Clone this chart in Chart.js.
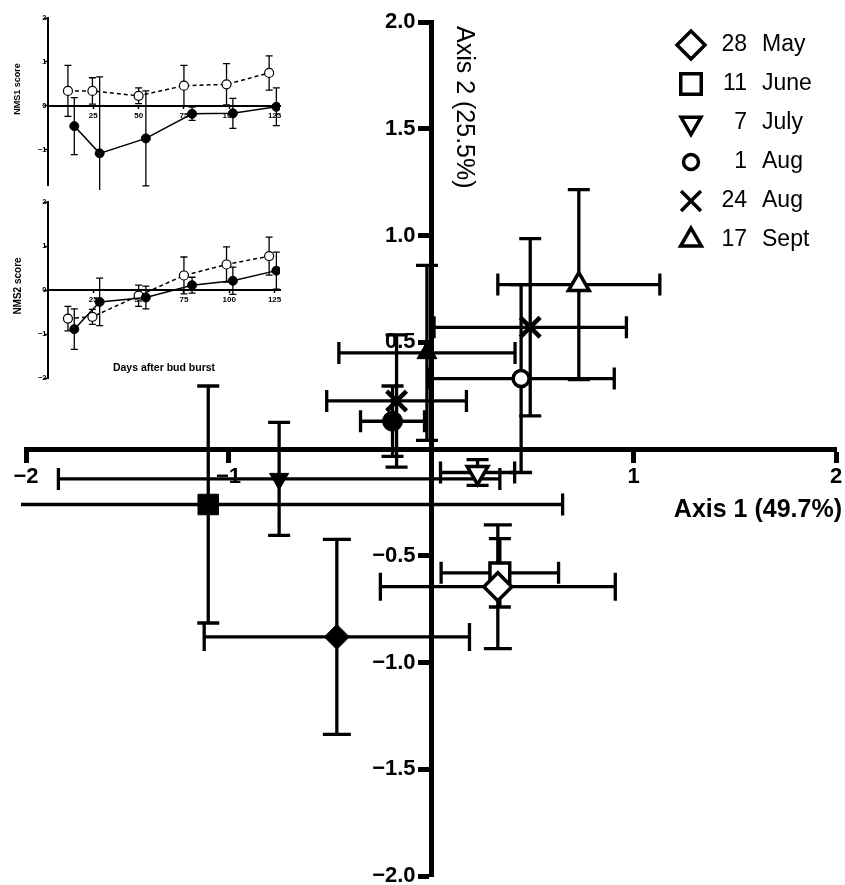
<!DOCTYPE html>
<html>
<head>
<meta charset="utf-8">
<script src="https://cdn.jsdelivr.net/npm/chart.js@4.4.1/dist/chart.umd.min.js"></script>
<style>
  html, body { margin: 0; padding: 0; background: #fff; overflow: hidden; }
  #wrap { position: relative; width: 845px; height: 885px; }
  canvas { position: absolute; left: 0; }
</style>
</head>
<body>
<div id="wrap">
  <canvas id="main" width="845" height="885" style="top:0"></canvas>
  <canvas id="nms1" width="290" height="192" style="top:0"></canvas>
  <canvas id="nms2" width="290" height="193" style="top:192px"></canvas>
</div>
<script>
// ---- main ordination (NMS axis 1 vs axis 2) ----
const dates = ["28 May", "11 June", "7 July", "1 Aug", "24 Aug", "17 Sept"];

const openAxis1 = [0.33, 0.34, 0.23, 0.445, 0.49, 0.73];
const openAxis1Err = [0.58, 0.29, 0.183, 0.46, 0.475, 0.40];
const openAxis2 = [-0.645, -0.58, -0.11, 0.33, 0.57, 0.77];
const openAxis2Err = [0.29, 0.16, 0.06, 0.44, 0.415, 0.445];

const filledAxis1 = [-0.465, -1.10, -0.75, -0.19, -0.17, -0.02];
const filledAxis1Err = [0.655, 1.75, 1.09, 0.158, 0.345, 0.435];
const filledAxis2 = [-0.88, -0.26, -0.14, 0.13, 0.225, 0.45];
const filledAxis2Err = [0.457, 0.555, 0.265, 0.165, 0.31, 0.41];

const axis1Ticks = [-2, -1, 1, 2];
const axis2Ticks = [-2, -1.5, -1, -0.5, 0.5, 1, 1.5, 2];

// ---- insets: scores against days after bud burst ----
const openDays = [11, 24.5, 50, 75, 98.5, 122];
const filledDays = [14.5, 28.5, 54, 79.5, 102, 126];

const nms1Open = [0.34, 0.34, 0.23, 0.46, 0.49, 0.75];
const nms1OpenErr = [0.58, 0.30, 0.18, 0.46, 0.47, 0.39];
const nms1Filled = [-0.46, -1.08, -0.74, -0.18, -0.17, -0.02];
const nms1FilledErr = [0.65, 1.74, 1.08, 0.15, 0.34, 0.43];

const nms2Open = [-0.65, -0.61, -0.13, 0.33, 0.58, 0.77];
const nms2OpenErr = [0.28, 0.17, 0.24, 0.42, 0.40, 0.43];
const nms2Filled = [-0.89, -0.27, -0.17, 0.11, 0.21, 0.44];
const nms2FilledErr = [0.46, 0.54, 0.26, 0.18, 0.31, 0.42];

const dayTicks = [25, 50, 75, 100, 125];
const scoreTicks = [-2, -1, 0, 1, 2];

Chart.defaults.font.family = "'Liberation Sans', Arial, Helvetica, sans-serif";
Chart.defaults.color = "#000";

const minus = v => String(v).replace("-", "\u2212");
// axes crossing in the middle: keep chart.js from adding label overflow padding
const noPad = s => { s.paddingLeft = 0; s.paddingRight = 0; s.paddingTop = 0; s.paddingBottom = 0; };

// symbol per sampling date
const symbols = [
  { style: "rectRot", rot: 0, rOpen: 14, rFilled: 12.5, cap: 14 },
  { style: "rect", rot: 0, rOpen: 14, rFilled: 14.5, cap: 11 },
  { style: "triangle", rot: 180, rOpen: 12, rFilled: 11, cap: 11 },
  { style: "circle", rot: 0, rOpen: 8, rFilled: 10, cap: 11 },
  { style: "crossRot", rot: 0, rOpen: 14, rFilled: 14, cap: 11 },
  { style: "triangle", rot: 0, rOpen: 12, rFilled: 11.5, cap: 11 },
];

// error bars drawn from each dataset's errX / errY through the scales
const errorBars = {
  id: "errorBars",
  beforeDatasetsDraw(chart, args, opts) {
    const { ctx, chartArea: a, scales: { x, y } } = chart;
    ctx.save();
    ctx.beginPath();
    ctx.rect(a.left - 5, a.top - 5, a.width + 10, a.height + 10);
    ctx.clip();
    ctx.strokeStyle = "#000";
    ctx.lineWidth = opts.width || 1;
    chart.data.datasets.forEach(ds => {
      ds.data.forEach((p, j) => {
        const px = x.getPixelForValue(p.x), py = y.getPixelForValue(p.y);
        const c = ds.cap;
        ctx.beginPath();
        if (ds.errX) {
          const l = x.getPixelForValue(p.x - ds.errX[j]), r = x.getPixelForValue(p.x + ds.errX[j]);
          ctx.moveTo(l, py); ctx.lineTo(r, py);
          ctx.moveTo(l, py - c); ctx.lineTo(l, py + c);
          ctx.moveTo(r, py - c); ctx.lineTo(r, py + c);
        }
        if (ds.errY) {
          const t = y.getPixelForValue(p.y + ds.errY[j]), b = y.getPixelForValue(p.y - ds.errY[j]);
          ctx.moveTo(px, t); ctx.lineTo(px, b);
          ctx.moveTo(px - c, t); ctx.lineTo(px + c, t);
          ctx.moveTo(px - c, b); ctx.lineTo(px + c, b);
        }
        ctx.stroke();
      });
    });
    ctx.restore();
  },
};

// free text (axis titles) and the symbol key
const extras = {
  id: "extras",
  afterDraw(chart, args, opts) {
    const ctx = chart.ctx;
    (opts.texts || []).forEach(t => {
      ctx.save();
      ctx.fillStyle = "#000";
      ctx.font = t.font;
      ctx.textAlign = t.align || "center";
      ctx.textBaseline = "middle";
      ctx.translate(t.x, t.y);
      if (t.rotate) ctx.rotate(t.rotate);
      ctx.fillText(t.text, 0, 0);
      ctx.restore();
    });
    if (opts.key) {
      const k = opts.key;
      dates.forEach((d, i) => {
        const s = symbols[i];
        const y = k.y + i * k.step;
        ctx.save();
        ctx.fillStyle = "#fff";
        ctx.strokeStyle = "#000";
        ctx.lineWidth = 3.5;
        Chart.helpers.drawPoint(ctx, { pointStyle: s.style, rotation: s.rot, radius: k.radius[i], borderWidth: 3.5 }, k.x, y);
        ctx.restore();
        const [num, month] = d.split(" ");
        ctx.save();
        ctx.fillStyle = "#000";
        ctx.font = k.font;
        ctx.textBaseline = "middle";
        ctx.textAlign = "right";
        ctx.fillText(num, k.numRight, y);
        ctx.textAlign = "left";
        ctx.fillText(month, k.monthLeft, y);
        ctx.restore();
      });
    }
  },
};

const mainSets = [];
dates.forEach((d, i) => {
  const s = symbols[i];
  mainSets.push({
    label: d,
    data: [{ x: openAxis1[i], y: openAxis2[i] }],
    errX: [openAxis1Err[i]], errY: [openAxis2Err[i]], cap: s.cap,
    pointStyle: s.style, rotation: s.rot, radius: s.rOpen,
    backgroundColor: "#fff", borderColor: "#000", borderWidth: s.style === "crossRot" ? 4.5 : 3.5,
  });
});
dates.forEach((d, i) => {
  const s = symbols[i];
  mainSets.push({
    label: d + " (filled)",
    data: [{ x: filledAxis1[i], y: filledAxis2[i] }],
    errX: [filledAxis1Err[i]], errY: [filledAxis2Err[i]], cap: s.cap,
    pointStyle: s.style, rotation: s.rot, radius: s.rFilled,
    backgroundColor: "#000", borderColor: "#000", borderWidth: s.style === "crossRot" ? 4.5 : 1,
  });
});

const bigTick = { size: 22, weight: "bold" };

new Chart("main", {
  type: "scatter",
  data: { datasets: mainSets },
  options: {
    responsive: false,
    animation: false,
    layout: { autoPadding: false, padding: { left: 26, right: 9, top: 22, bottom: 9 } },
    plugins: {
      legend: { display: false },
      tooltip: { enabled: false },
      errorBars: { width: 3.3 },
      extras: {
        texts: [
          { text: "Axis 1 (49.7%)", x: 842, y: 510, align: "right", font: "bold 25px 'Liberation Sans', Arial, sans-serif" },
          { text: "Axis 2 (25.5%)", x: 464, y: 26, align: "left", rotate: Math.PI / 2, font: "25px 'Liberation Sans', Arial, sans-serif" },
        ],
        key: {
          x: 691, y: 45, step: 39, numRight: 747, monthLeft: 762,
          radius: [14, 14.5, 11.5, 7.5, 14, 12],
          font: "23px 'Liberation Sans', Arial, sans-serif",
        },
      },
    },
    scales: {
      x: {
        type: "linear", min: -2, max: 2, position: { y: 0 },
        afterBuildTicks: s => { s.ticks = axis1Ticks.map(v => ({ value: v })); },
        afterFit: noPad,
        border: { color: "#000", width: 5 },
        grid: { drawOnChartArea: false, drawTicks: true, tickLength: 11, tickWidth: 5, tickColor: "#000" },
        ticks: { font: bigTick, color: "#000", padding: 4, maxRotation: 0, callback: v => minus(v) },
      },
      y: {
        type: "linear", min: -2, max: 2, position: { x: 0 },
        afterBuildTicks: s => { s.ticks = axis2Ticks.map(v => ({ value: v })); },
        afterFit: noPad,
        border: { color: "#000", width: 5 },
        grid: { drawOnChartArea: false, drawTicks: true, tickLength: 11, tickWidth: 5, tickColor: "#000" },
        // labels of a centred y axis end at the axis line, so pad them away from the ticks
        ticks: { font: bigTick, color: "#000", padding: 4, callback: v => minus(v.toFixed(1)) + "\u2002\u2009" },
      },
    },
  },
  plugins: [errorBars, extras],
});

function insetChart(id, openVals, openErr, filledVals, filledErr, yMin, pad, texts) {
  return new Chart(id, {
    type: "scatter",
    data: {
      datasets: [
        {
          data: filledDays.map((d, i) => ({ x: d, y: filledVals[i] })),
          errY: filledErr, cap: 3.5, showLine: true,
          borderColor: "#000", borderWidth: 1.5, backgroundColor: "#000",
          pointRadius: 4.5, pointBorderWidth: 1,
        },
        {
          data: openDays.map((d, i) => ({ x: d, y: openVals[i] })),
          errY: openErr, cap: 3.5, showLine: true,
          borderColor: "#000", borderWidth: 1.5, borderDash: [4, 3], backgroundColor: "#fff",
          pointRadius: 4.5, pointBorderWidth: 1.2,
        },
      ],
    },
    options: {
      responsive: false,
      animation: false,
      layout: { autoPadding: false, padding: pad },
      plugins: {
        legend: { display: false },
        tooltip: { enabled: false },
        errorBars: { width: 1.3 },
        extras: { texts: texts },
      },
      scales: {
        x: {
          type: "linear", min: 0, max: 128, position: { y: 0 },
          afterBuildTicks: s => { s.ticks = dayTicks.map(v => ({ value: v })); },
          afterFit: noPad,
          border: { color: "#000", width: 2 },
          grid: { drawOnChartArea: false, drawTicks: true, tickLength: 2, tickWidth: 1.5, tickColor: "#000" },
          ticks: { font: { size: 8, weight: "bold" }, color: "#000", padding: 3, maxRotation: 0 },
        },
        y: {
          type: "linear", min: yMin, max: 2, position: { x: 0 },
          afterBuildTicks: s => { s.ticks = scoreTicks.filter(v => v >= yMin).map(v => ({ value: v })); },
          afterFit: noPad,
          border: { color: "#000", width: 2 },
          grid: { drawOnChartArea: false, drawTicks: true, tickLength: 3, tickWidth: 1.5, tickColor: "#000" },
          ticks: { font: { size: 7.5, weight: "bold" }, color: "#000", padding: 1, callback: v => minus(v) + "\u2009" },
        },
      },
    },
    plugins: [errorBars, extras],
  });
}

insetChart("nms1", nms1Open, nms1OpenErr, nms1Filled, nms1FilledErr, -1.8,
  { left: 48, right: 10, top: 18, bottom: 7 },
  [{ text: "NMS1 score", x: 18, y: 89, rotate: -Math.PI / 2, font: "bold 9px 'Liberation Sans', Arial, sans-serif" }]);

insetChart("nms2", nms2Open, nms2OpenErr, nms2Filled, nms2FilledErr, -2,
  { left: 48, right: 10, top: 10, bottom: 7 },
  [
    { text: "NMS2 score", x: 18, y: 94, rotate: -Math.PI / 2, font: "bold 10px 'Liberation Sans', Arial, sans-serif" },
    { text: "Days after bud burst", x: 164, y: 176, font: "bold 10.5px 'Liberation Sans', Arial, sans-serif" },
  ]);
</script>
</body>
</html>
